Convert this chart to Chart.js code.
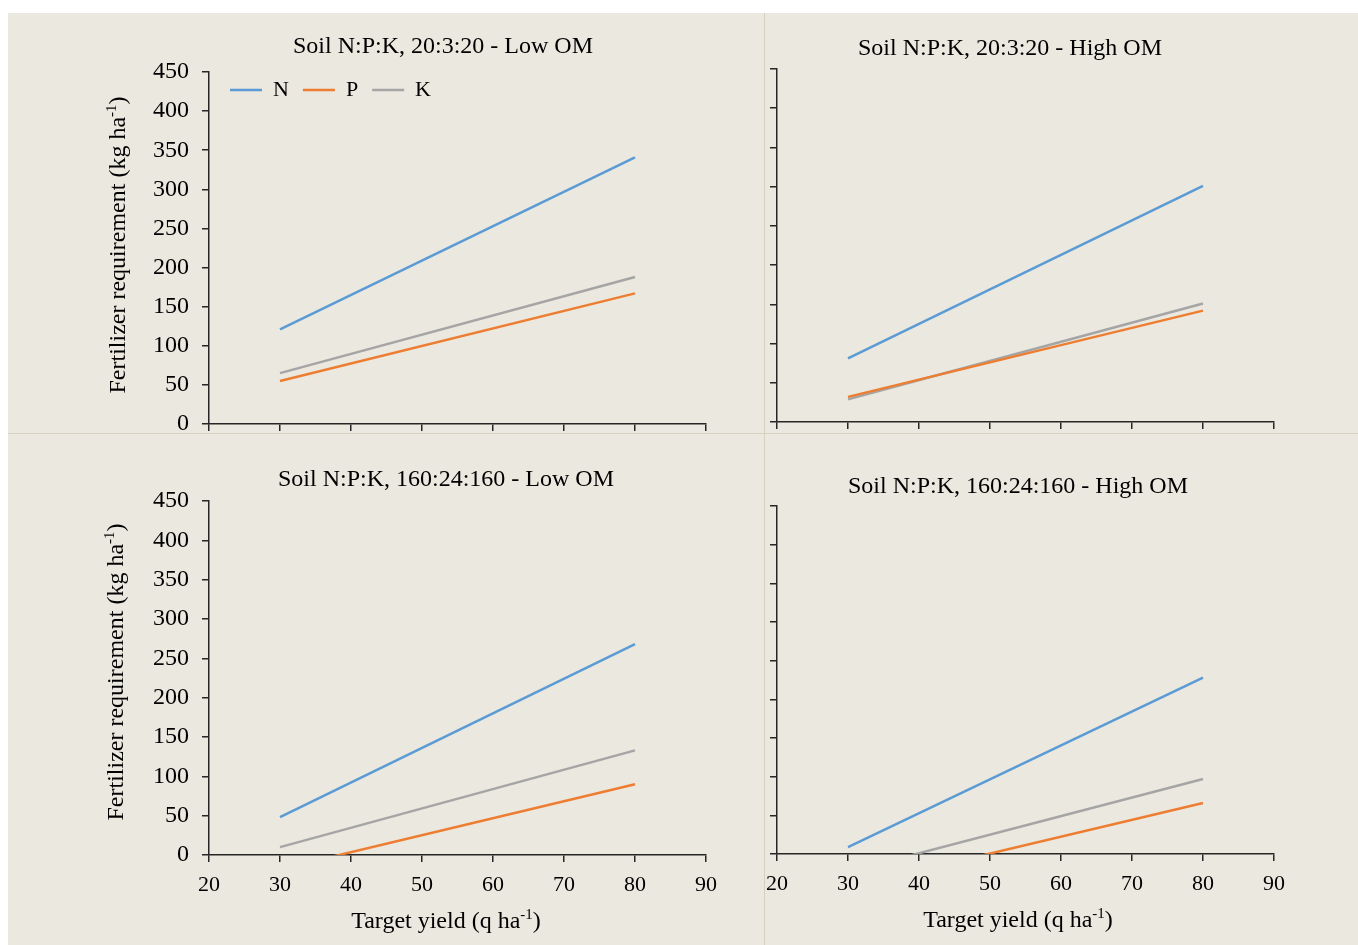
<!DOCTYPE html>
<html lang="en">
<head>
    <meta charset="UTF-8">
    <title>Fertilizer requirement vs target yield</title>
    <script src="https://cdn.jsdelivr.net/npm/chart.js"></script>
    <style>
        html, body { margin: 0; padding: 0; background: #fff; }
        .sheet { position: absolute; left: 8px; top: 13px; width: 1350px; height: 932px; background: #ebe8df; }
        canvas { position: absolute; }
        .divider { position: absolute; background: #d6d1c0; }
    </style>
</head>
<body>

<div class="sheet"></div>
<canvas id="chart-tl" width="756" height="420" style="left:8px;top:13px"></canvas>
<canvas id="chart-tr" width="594" height="420" style="left:764px;top:13px"></canvas>
<canvas id="chart-bl" width="756" height="512" style="left:8px;top:433px"></canvas>
<canvas id="chart-br" width="594" height="512" style="left:764px;top:433px"></canvas>
<div class="divider" style="left:764px;top:13px;width:1px;height:932px"></div>
<div class="divider" style="left:8px;top:433px;width:1350px;height:1px"></div>

<script>

    // target yield (q/ha) and tick labels
    const targetYield = [30, 80];
    const xTicks = [20, 30, 40, 50, 60, 70, 80, 90];
    const yTicks = [0, 50, 100, 150, 200, 250, 300, 350, 400, 450];
    const nutrients = ['N', 'P', 'K'];

    const panelTitles = [
        'Soil N:P:K, 20:3:20 - Low OM',
        'Soil N:P:K, 20:3:20 - High OM',
        'Soil N:P:K, 160:24:160 - Low OM',
        'Soil N:P:K, 160:24:160 - High OM'
    ];

    // fertilizer requirement (kg/ha) at 30 and 80 q/ha
    const npk20LowN = [121, 341];
    const npk20LowP = [55, 167];
    const npk20LowK = [65, 188];

    const npk20HighN = [81, 301];
    const npk20HighP = [32, 142];
    const npk20HighK = [29, 151];

    const npk160LowN = [48, 268];
    const npk160LowP = [-18, 90];
    const npk160LowK = [10, 133];

    const npk160HighN = [9, 228];
    const npk160HighP = [-43, 66];
    const npk160HighK = [-23, 97];

    const lineColors = ['#5b9bd5', '#ed7d31', '#a5a5a5'];
    const axisColor = '#262626';
    const serif = "'Liberation Serif', 'Times New Roman', serif";

    Chart.defaults.font.family = serif;
    Chart.defaults.color = '#000';

    // draws "text(sup)text" centred on x,y
    function drawSupText(ctx, parts, x, y, rot) {
        ctx.save();
        ctx.translate(x, y);
        ctx.rotate(rot);
        ctx.textAlign = 'left';
        ctx.textBaseline = 'alphabetic';
        const big = '24px ' + serif, small = '15px ' + serif;
        ctx.font = big;
        const w1 = ctx.measureText(parts[0]).width;
        const w3 = ctx.measureText(parts[2]).width;
        ctx.font = small;
        const w2 = ctx.measureText(parts[1]).width;
        let cx = -(w1 + w2 + w3) / 2;
        const base = 8;
        ctx.font = big;
        ctx.fillText(parts[0], cx, base);
        cx += w1;
        ctx.font = small;
        ctx.fillText(parts[1], cx, base - 9);
        cx += w2;
        ctx.font = big;
        ctx.fillText(parts[2], cx, base);
        ctx.restore();
    }

    const panelText = {
        id: 'panelText',
        afterLayout(chart, args, opts) {
            // legend sits inside the plot, top-left
            if (opts.legendAt && chart.legend) {
                const lg = chart.legend;
                const h = lg.bottom - lg.top;
                lg.left = opts.legendAt[0];
                lg.top = opts.legendAt[1];
                lg.bottom = lg.top + h;
            }
        },
        afterDraw(chart, args, opts) {
            const ctx = chart.ctx;
            ctx.save();
            ctx.fillStyle = '#000';
            ctx.textAlign = 'center';
            ctx.textBaseline = 'middle';
            ctx.font = '24px ' + serif;
            ctx.fillText(opts.title, opts.titleAt[0], opts.titleAt[1]);
            if (opts.yTitleAt) {
                drawSupText(ctx, ['Fertilizer requirement (kg ha', '-1', ')'], opts.yTitleAt[0], opts.yTitleAt[1], -Math.PI / 2);
            }
            if (opts.xTitleAt) {
                drawSupText(ctx, ['Target yield (q ha', '-1', ')'], opts.xTitleAt[0], opts.xTitleAt[1], 0);
            }
            ctx.restore();
        }
    };

    function makeDatasets(series) {
        return series.map((values, i) => ({
            label: nutrients[i],
            data: targetYield.map((x, j) => ({x: x, y: values[j]})),
            borderColor: lineColors[i],
            backgroundColor: lineColors[i],
            borderWidth: 2.5,
            pointRadius: 0,
            tension: 0
        }));
    }

    function makeChart(id, series, p) {
        return new Chart(document.getElementById(id), {
            type: 'line',
            data: {datasets: makeDatasets(series)},
            options: {
                responsive: false,
                animation: false,
                layout: {
                    autoPadding: false,
                    padding: {left: 0, top: p.padTop, right: p.padRight, bottom: 0}
                },
                scales: {
                    x: {
                        type: 'linear',
                        min: xTicks[0],
                        max: xTicks[xTicks.length - 1],
                        ticks: {
                            display: p.xLabels,
                            stepSize: xTicks[1] - xTicks[0],
                            font: {size: 22},
                            padding: 10,
                            color: '#000'
                        },
                        grid: {drawOnChartArea: false, drawTicks: true, tickLength: 7, color: axisColor, lineWidth: 1.5},
                        border: {display: true, color: axisColor, width: 1.5},
                        afterFit: s => {
                            s.height = p.xHeight;
                            s.paddingLeft = 0;
                            s.paddingRight = 0;
                        }
                    },
                    y: {
                        min: yTicks[0],
                        max: yTicks[yTicks.length - 1],
                        ticks: {
                            display: p.yLabels,
                            stepSize: yTicks[1] - yTicks[0],
                            font: {size: 24},
                            padding: 13,
                            color: '#000'
                        },
                        grid: {drawOnChartArea: false, drawTicks: true, tickLength: 7, color: axisColor, lineWidth: 1.5},
                        border: {display: true, color: axisColor, width: 1.5},
                        afterFit: s => {
                            s.width = p.yWidth;
                            s.paddingTop = 0;
                            s.paddingBottom = 0;
                        }
                    }
                },
                plugins: {
                    legend: {
                        display: p.legend,
                        position: 'top',
                        align: 'start',
                        labels: {
                            usePointStyle: true,
                            pointStyle: 'line',
                            pointStyleWidth: 32,
                            padding: 14,
                            font: {size: 22},
                            color: '#000'
                        }
                    },
                    tooltip: {enabled: false},
                    panelText: {
                        title: p.title,
                        titleAt: p.titleAt,
                        yTitleAt: p.yTitleAt,
                        xTitleAt: p.xTitleAt,
                        legendAt: p.legendAt
                    }
                }
            },
            plugins: [panelText]
        });
    }

    makeChart('chart-tl', [npk20LowN, npk20LowP, npk20LowK], {
        title: panelTitles[0], titleAt: [435, 34], yTitleAt: [109, 232],
        padTop: 13, padRight: 58, yWidth: 201, xHeight: 9,
        xLabels: false, yLabels: true, legend: true, legendAt: [208, 52]
    });

    makeChart('chart-tr', [npk20HighN, npk20HighP, npk20HighK], {
        title: panelTitles[1], titleAt: [246, 36],
        padTop: 56, padRight: 84, yWidth: 13, xHeight: 11,
        xLabels: false, yLabels: false, legend: false
    });

    makeChart('chart-bl', [npk160LowN, npk160LowP, npk160LowK], {
        title: panelTitles[2], titleAt: [438, 47], yTitleAt: [107, 239], xTitleAt: [438, 487],
        padTop: 68, padRight: 58, yWidth: 201, xHeight: 90,
        xLabels: true, yLabels: true, legend: false
    });

    makeChart('chart-br', [npk160HighN, npk160HighP, npk160HighK], {
        title: panelTitles[3], titleAt: [254, 54], xTitleAt: [254, 486],
        padTop: 73, padRight: 84, yWidth: 13, xHeight: 91,
        xLabels: true, yLabels: false, legend: false
    });

</script>
</body>
</html>
